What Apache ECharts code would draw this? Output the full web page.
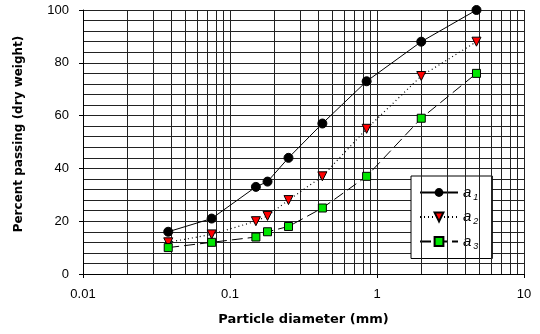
<!DOCTYPE html>
<html>
<head>
<meta charset="utf-8">
<script src="https://cdn.jsdelivr.net/npm/echarts@6/dist/echarts.min.js"></script>
<style>
  html, body { margin: 0; padding: 0; background: #fff; }
  #main { width: 540px; height: 334px; }
</style>
</head>
<body>
<div id="main"></div>
<script>
// sieve sizes (mm)
const diameters = [0.038, 0.075, 0.15, 0.18, 0.25, 0.425, 0.85, 2.0, 4.75];
const a1 = [16, 21, 33, 35, 44, 57, 73, 88, 100];
const a2 = [12, 15, 20, 22, 28, 37, 55, 75, 88];
const a3 = [10, 12, 14, 16, 18, 25, 37, 59, 76];
// minor vertical grid lines of the log paper
const minorX = [0.02, 0.03, 0.04, 0.05, 0.06, 0.07, 0.08, 0.09,
  0.2, 0.3, 0.4, 0.5, 0.6, 0.7, 0.8, 0.9,
  2, 3, 4, 5, 6, 7, 8, 9];

const pairs = (ys) => diameters.map((d, i) => [d, ys[i]]);
const gridColor = '#222';

const chart = echarts.init(document.getElementById('main'));
chart.setOption({
  animation: false,
  grid: { left: 83, right: 16, top: 10, bottom: 60 },
  xAxis: {
    type: 'log',
    logBase: 10,
    min: 0.01,
    max: 10,
    name: 'Particle diameter (mm)',
    nameLocation: 'middle',
    nameGap: 39,
    nameTextStyle: { fontFamily: 'DejaVu Sans', fontWeight: 'bold', fontSize: 13, color: '#000' },
    axisLine: { lineStyle: { color: '#000' } },
    axisTick: { show: true, length: 4, inside: false, lineStyle: { color: '#000' } },
    axisLabel: { fontFamily: 'Liberation Sans', fontSize: 13, color: '#000', margin: 14 },
    splitLine: { show: true, lineStyle: { color: gridColor, width: 1 } }
  },
  yAxis: {
    type: 'value',
    min: 0,
    max: 100,
    interval: 20,
    name: 'Percent passing (dry weight)',
    nameLocation: 'middle',
    nameGap: 58,
    nameTextStyle: { fontFamily: 'DejaVu Sans', fontWeight: 'bold', fontSize: 12, color: '#000', padding: [0, 0, 0, 16] },
    axisLine: { show: true, lineStyle: { color: '#000' } },
    axisTick: { show: true, length: 4, lineStyle: { color: '#000' } },
    axisLabel: { fontFamily: 'Liberation Sans', fontSize: 13, color: '#000', margin: 14 },
    splitLine: { show: true, lineStyle: { color: gridColor, width: 1 } },
    minorTick: { show: false, splitNumber: 5 },
    minorSplitLine: { show: true, lineStyle: { color: gridColor, width: 1 } }
  },
  legend: {
    data: ['a1', 'a2', 'a3'],
    orient: 'vertical',
    left: 411,
    top: 176,
    padding: [9, 14, 8, 8],
    itemWidth: 38,
    itemHeight: 11,
    itemGap: 8,
    backgroundColor: '#fff',
    borderColor: '#000',
    borderWidth: 1,
    formatter: (name) => '{a|a}{s|' + name.slice(1) + '}',
    textStyle: {
      rich: {
        a: { fontFamily: 'Liberation Sans', fontStyle: 'italic', fontSize: 15, color: '#000' },
        s: { fontFamily: 'Liberation Sans', fontStyle: 'italic', fontSize: 9, color: '#000', padding: [9, 0, 0, 2] }
      }
    }
  },
  series: [
    {
      name: 'grid',
      type: 'line',
      data: [],
      silent: true,
      z: 1,
      markLine: {
        silent: true,
        symbol: 'none',
        label: { show: false },
        lineStyle: { color: gridColor, type: 'solid', width: 1 },
        data: minorX.map(v => ({ xAxis: v }))
      }
    },
    {
      name: 'a1',
      type: 'line',
      data: pairs(a1),
      z: 5,
      symbol: 'circle',
      symbolSize: 9,
      itemStyle: { color: '#000', borderColor: '#000' },
      lineStyle: { color: '#000', width: 1, type: 'solid' }
    },
    {
      name: 'a2',
      type: 'line',
      data: pairs(a2),
      z: 5,
      symbol: 'triangle',
      symbolRotate: 180,
      symbolSize: 9,
      itemStyle: { color: '#ff0000', borderColor: '#000', borderWidth: 1 },
      lineStyle: { color: '#000', width: 1.2, type: [1, 3] }
    },
    {
      name: 'a3',
      type: 'line',
      data: pairs(a3),
      z: 5,
      symbol: 'rect',
      symbolSize: 8,
      itemStyle: { color: '#00e600', borderColor: '#000', borderWidth: 1 },
      lineStyle: { color: '#000', width: 1, type: [11, 5] }
    }
  ]
});
</script>
</body>
</html>
